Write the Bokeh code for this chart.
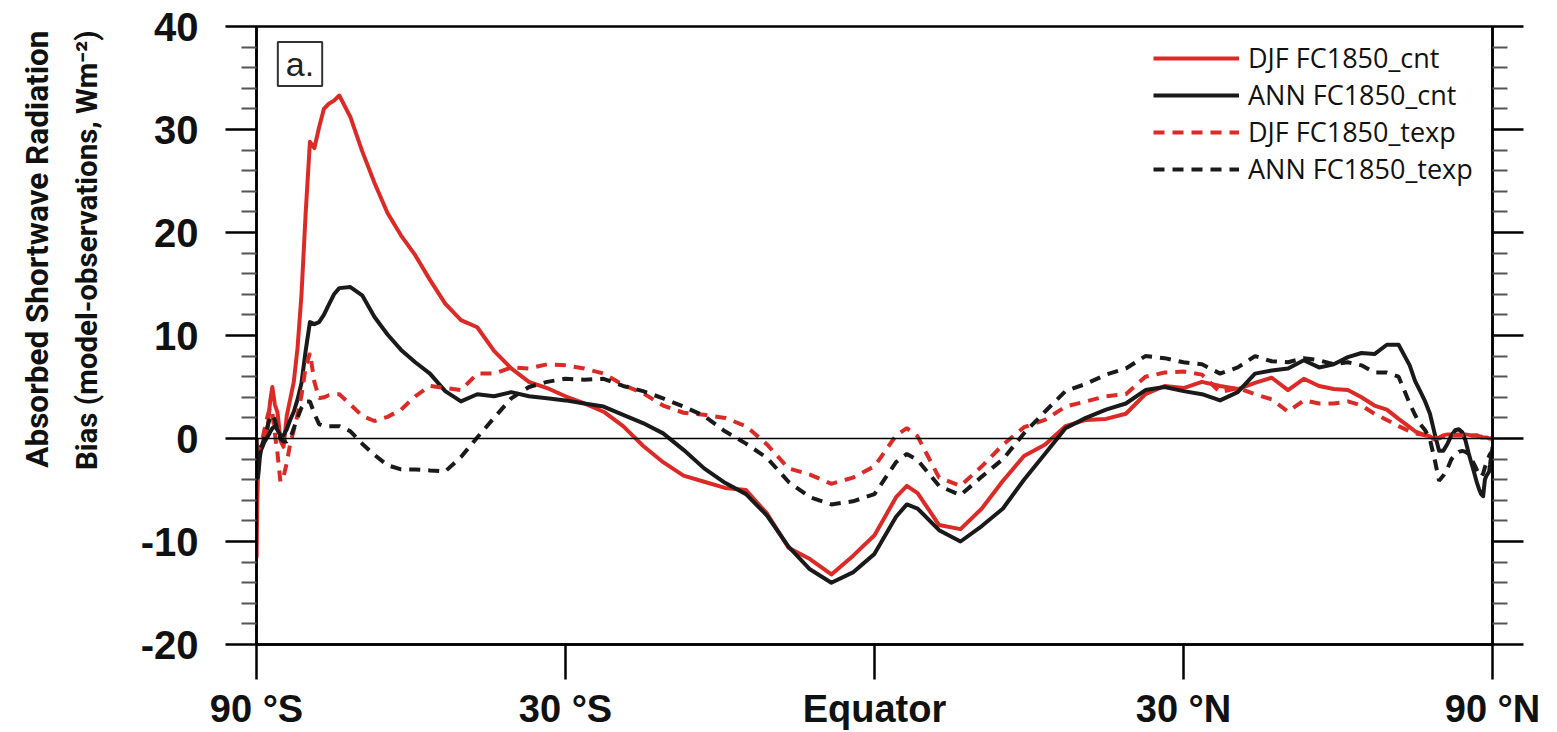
import numpy as np
from bokeh.plotting import figure
from bokeh.models import (FixedTicker, LinearAxis, Span, Label, Legend, LegendItem, Range1d, Title)
from bokeh.embed import file_html
from bokeh.resources import INLINE

# ---------------- data ----------------
lat = [-90, -89, -88, -87, -86, -85, -84, -83, -82, -81, -80, -79, -78, -77, -76, -75,
       -74, -73, -72, -71, -70, -69, -68, -67, -66, -65, -64, -63, -62, -61, -60,
       -58, -56, -54, -52, -50, -48, -46, -44, -42, -40, -38, -36, -34, -32, -30,
       -28, -26, -24, -22, -20, -18, -16, -14, -12, -10, -8, -6, -4, -2,
       0, 2, 3, 4, 6, 8, 10, 12, 14, 16, 18, 20, 22, 24, 26, 28, 30,
       32, 34, 36, 38, 40, 42, 44, 46, 48, 50, 52, 54, 56, 58,
       60, 61, 62, 63, 64, 65, 66, 67, 68, 69, 70, 71, 72, 73, 74, 75,
       76, 77, 78, 79, 80, 81, 82, 83, 84, 85, 86, 87, 88, 89, 90]

djf_cnt = [0.0, -11.5, -9.0, -6.0, -3.5, -2.0, -1.2, -0.8, -0.6, -0.3, 0.1, 1.2, 3.5, 5.0, 3.3, 2.5,
           -0.2, -0.8, 2.2, 3.8, 5.5, 8.8, 14.0, 21.8, 28.8, 28.2, 30.2, 32.0, 32.5, 32.8, 33.3,
           31.2, 27.9, 24.8, 21.9, 19.7, 17.8, 15.4, 13.1, 11.5, 10.8, 8.5, 6.8, 5.5, 4.9, 4.1,
           3.4, 2.6, 1.2, -0.7, -2.3, -3.6, -4.2, -4.8, -5.0, -7.3, -10.6, -11.7, -13.2, -11.4,
           -9.4, -5.7, -4.6, -5.3, -8.4, -8.8, -6.8, -4.1, -1.7, -0.6, 1.2, 1.8, 1.9, 2.4, 4.3, 5.1, 4.9,
           5.5, 5.1, 4.8, 5.4, 5.9, 4.7, 5.8, 5.1, 4.8, 4.7, 4.0, 3.2, 2.8, 1.9,
           1.1, 0.7, 0.5, 0.35, 0.2, -0.1, 0.1, 0.3, 0.4, 0.4, 0.4, 0.4, 0.4, 0.4, 0.35, 0.3,
           0.3, 0.3, 0.2, 0.2, 0.1, 0.1, 0.1, 0.05, 0.0, 0.0, 0.0, 0.0, 0.0, 0.0, 0.0]

ann_cnt = [0.0, -2.0, -3.5, -3.8, -3.8, -3.0, -1.8, -1.1, -0.8, -0.4, -0.1, 0.2, 0.6, 1.0, 1.2, 0.8,
           0.3, 0.3, 0.9, 1.8, 2.6, 3.8, 5.4, 8.5, 11.3, 11.1, 11.3, 12.0, 13.0, 14.0, 14.6,
           14.7, 13.9, 11.8, 10.1, 8.6, 7.4, 6.3, 4.6, 3.6, 4.3, 4.1, 4.5, 4.1, 3.9, 3.7,
           3.4, 3.1, 2.3, 1.5, 0.5, -1.1, -2.9, -4.3, -5.4, -7.5, -10.5, -12.7, -14.0, -13.0,
           -11.2, -7.6, -6.4, -6.8, -8.9, -10.0, -8.5, -6.8, -4.0, -1.5, 1.0, 2.0, 2.8, 3.4, 4.7, 5.0, 4.6,
           4.3, 3.7, 4.5, 6.3, 6.6, 6.8, 7.6, 6.9, 7.2, 7.9, 8.3, 8.2, 9.1, 9.1,
           7.1, 5.6, 4.6, 3.6, 2.4, 0.5, -1.2, -1.2, -0.5, 0.3, 0.8, 0.9, 0.6, -0.2, -1.4, -2.4,
           -3.3, -4.2, -4.9, -5.4, -5.6, -4.0, -3.6, -3.4, -3.2, -2.5, -1.8, -1.5, -1.2, -1.0, -0.8]

djf_texp = [-0.5, -1.0, -1.0, -1.0, -1.0, -1.0, -0.8, -0.5, 0.0, 0.7, 1.5, 2.3, 3.0, 2.5, 0.5, -1.5,
            -4.2, -3.7, -2.4, -0.5, 0.8, 2.3, 4.2, 6.9, 8.3, 5.5, 3.9, 4.0, 4.2, 4.3, 4.3,
            3.3, 2.2, 1.7, 2.1, 2.8, 4.1, 5.1, 4.9, 4.7, 6.3, 6.3, 6.9, 6.8, 7.2, 7.1,
            6.8, 6.3, 5.2, 4.4, 3.2, 2.5, 2.3, 2.0, 1.2, -0.6, -2.9, -3.5, -4.4, -3.8,
            -2.7, 0.3, 1.0, 0.2, -3.8, -4.6, -2.7, -0.6, 1.1, 1.8, 3.1, 3.6, 4.1, 4.3, 6.0, 6.4, 6.5,
            6.2, 4.5, 4.9, 4.3, 3.8, 2.6, 3.7, 3.4, 3.4, 3.6, 3.2, 2.4, 1.8, 1.2,
            0.7, 0.5, 0.4, 0.3, 0.2, 0.1, 0.0, 0.2, 0.3, 0.3, 0.3, 0.3, 0.3, 0.3, 0.3, 0.3,
            0.3, 0.3, 0.2, 0.1, 0.1, 0.1, 0.1, 0.1, 0.0, 0.0, 0.0, 0.0, 0.0, 0.0, 0.0]

ann_texp = [-0.5, -1.0, -1.5, -1.5, -1.5, -1.5, -1.2, -0.9, -0.5, 0.0, 0.5, 1.3, 2.0, 2.3, 1.8, 0.8,
            0.0, -0.3, -0.3, 0.0, 1.0, 2.0, 3.0, 3.6, 3.6, 2.4, 1.4, 1.2, 1.2, 1.2, 1.2,
            0.7, -0.5, -1.6, -2.6, -3.0, -3.0, -3.1, -3.2, -1.8, 0.1, 2.0, 3.9, 5.0, 5.5, 5.8,
            5.7, 5.8, 5.1, 4.6, 3.9, 3.1, 2.2, 0.7, -0.5, -1.9, -4.2, -5.7, -6.4, -6.1,
            -5.4, -2.3, -1.5, -2.1, -4.6, -5.5, -3.7, -2.0, 0.5, 2.6, 4.6, 5.3, 6.2, 6.8, 8.0, 7.8, 7.4,
            7.2, 6.3, 6.9, 8.0, 7.5, 7.4, 7.8, 7.6, 7.2, 7.4, 7.1, 6.4, 6.4, 6.0,
            3.4, 2.3, 1.4, 0.8, -0.1, -2.0, -4.1, -3.6, -2.9, -2.0, -1.6, -1.3, -1.2, -1.3, -1.5, -2.0,
            -2.5, -3.0, -3.4, -3.7, -3.4, -2.8, -2.4, -2.0, -1.7, -1.5, -1.4, -1.3, -1.3, -1.3, -1.3]

series_names = ["DJF FC1850_cnt", "ANN FC1850_cnt", "DJF FC1850_texp", "ANN FC1850_texp"]
y_ticks = [-20, -10, 0, 10, 20, 30, 40]
y_minor_ticks = [-18, -16, -14, -12, -8, -6, -4, -2, 2, 4, 6, 8, 12, 14, 16, 18,
                 22, 24, 26, 28, 32, 34, 36, 38]
y_tick_labels = ["-20", "-10", "0", "10", "20", "30", "40"]
x_tick_lats = [-90, -30, 0, 30, 90]
x_tick_labels = ["90 °S", "30 °S", "Equator", "30 °N", "90 °N"]
y_title_lines = ["Absorbed Shortwave Radiation", "Bias (model-observations, Wm⁻²)"]
panel_tag = "a."

# ---------------- styling ----------------
RED = "#dc2b27"
BLACK = "#1a1a1a"
LW = 4.0


def mu(v):
    return np.sin(np.deg2rad(np.asarray(v, dtype=float)))


p = figure(width=1557, height=732, output_backend="svg", toolbar_location=None,
           x_range=Range1d(-1, 1), y_range=Range1d(-20, 40),
           min_border_left=256, min_border_right=65, min_border_top=26, min_border_bottom=88,
           background_fill_color="white", border_fill_color="white")
p.grid.visible = False
p.outline_line_color = "black"
p.outline_line_width = 2.5
p.outline_line_alpha = 1.0

# zero line
p.add_layout(Span(location=0, dimension="width", line_color="black", line_width=1.6))

x = mu(lat)
r1 = p.line(x, djf_cnt, line_color=RED, line_width=LW, line_join="round")
r2 = p.line(x, ann_cnt, line_color=BLACK, line_width=LW, line_join="round")
r3 = p.line(x, djf_texp, line_color=RED, line_width=LW, line_dash="11 8")
r4 = p.line(x, ann_texp, line_color=BLACK, line_width=LW, line_dash="11 8")

# left y axis
ya = p.yaxis[0]
ya.ticker = FixedTicker(ticks=y_ticks, minor_ticks=y_minor_ticks)
ya.major_label_overrides = {t: s for t, s in zip(y_ticks, y_tick_labels)}
ya.axis_line_width = 2.5
ya.major_tick_in = 0
ya.major_tick_out = 31
ya.minor_tick_in = 0
ya.minor_tick_out = 15
ya.major_tick_line_width = 2.5
ya.minor_tick_line_width = 2
ya.minor_tick_line_color = "#555555"
ya.major_label_text_font = "Liberation Sans"
ya.major_label_text_font_style = "bold"
ya.major_label_text_font_size = "40px"
ya.major_label_text_color = "#111111"
ya.major_label_standoff = 27

# right y axis (ticks only)
ra = LinearAxis(ticker=FixedTicker(ticks=y_ticks, minor_ticks=y_minor_ticks))
ra.axis_line_width = 2.5
ra.major_tick_in = 0
ra.major_tick_out = 31
ra.minor_tick_in = 0
ra.minor_tick_out = 15
ra.major_tick_line_width = 2.5
ra.minor_tick_line_width = 2
ra.minor_tick_line_color = "#555555"
ra.major_label_text_font_size = "0px"
ra.major_label_text_alpha = 0
p.add_layout(ra, "right")

# bottom x axis (sin-latitude coordinate)
xa = p.xaxis[0]
x_tick_pos = [float(v) for v in mu(x_tick_lats)]
xa.ticker = FixedTicker(ticks=x_tick_pos, minor_ticks=[])
xa.major_label_overrides = {t: s for t, s in zip(x_tick_pos, x_tick_labels)}
xa.axis_line_width = 2.5
xa.major_tick_in = 0
xa.major_tick_out = 35
xa.major_tick_line_width = 2.5
xa.major_label_standoff = 8
xa.major_label_text_font = "Liberation Sans"
xa.major_label_text_font_style = "bold"
xa.major_label_text_font_size = "38px"
xa.major_label_text_color = "#111111"

# y title: two rotated side titles; a blank spacer keeps the gap to the tick labels
spacer = Title(text=" ", standoff=30, text_font_size="1px")
t_inner = Title(text=y_title_lines[1], align="right", offset=4, vertical_align="middle",
                standoff=0, text_font="Roboto", text_font_style="bold",
                text_font_size="29.5px", text_color="#111111")
t_outer = Title(text=y_title_lines[0], align="right", offset=4, vertical_align="middle",
                standoff=24, text_font="Roboto", text_font_style="bold",
                text_font_size="31.5px", text_color="#111111")
p.add_layout(spacer, "left")
p.add_layout(t_inner, "left")
p.add_layout(t_outer, "left")

# panel tag
p.add_layout(Label(x=-0.9296, y=36.36, text=panel_tag, text_align="center",
                   text_baseline="middle", text_font="Liberation Sans", text_font_size="34px",
                   text_color="#222222", border_line_color="#333333", border_line_width=2,
                   background_fill_color="white",
                   padding=dict(left=8, right=8, top=3, bottom=3)))

# legend
legend = Legend(items=[LegendItem(label=n, renderers=[r]) for n, r in zip(series_names, [r1, r2, r3, r4])],
                location=(897, 457), orientation="vertical",
                border_line_alpha=0, background_fill_alpha=0,
                padding=0, margin=0, spacing=0,
                glyph_width=86, glyph_height=36, label_height=36, label_standoff=9,
                label_text_font="Open Sans", label_text_font_size="27px",
                label_text_color="#111111")
p.add_layout(legend)

open("out.html", "w").write(file_html(p, INLINE))
